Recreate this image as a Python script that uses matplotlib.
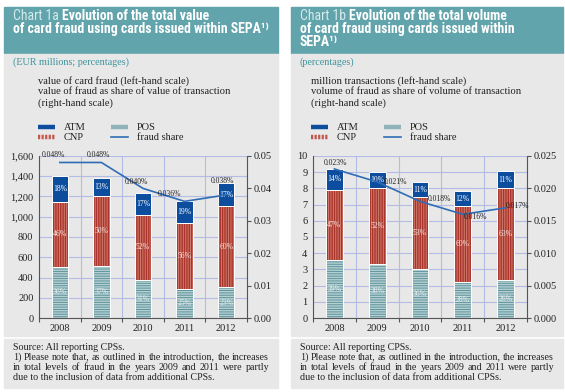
import matplotlib
matplotlib.use('Agg')
import matplotlib.pyplot as plt
from matplotlib.patches import Rectangle
from matplotlib.lines import Line2D
from matplotlib.ticker import FuncFormatter, FormatStrFormatter
from matplotlib import font_manager as fm

years = ['2008', '2009', '2010', '2011', '2012']

# Chart 1a - value of card fraud (EUR millions)
val_pos = [505, 515, 380, 290, 305]
val_cnp = [645, 685, 640, 650, 800]
val_atm = [250, 180, 210, 220, 225]
val_pos_pct = ['36%', '37%', '31%', '25%', '23%']
val_cnp_pct = ['46%', '50%', '52%', '56%', '60%']
val_atm_pct = ['18%', '13%', '17%', '19%', '17%']
val_share = [0.048, 0.048, 0.040, 0.036, 0.038]
val_share_lbl = ['0.048%', '0.048%', '0.040%', '0.036%', '0.038%']

# Chart 1b - volume of card fraud (million transactions)
vol_pos = [3.6, 3.35, 3.0, 2.2, 2.35]
vol_cnp = [4.3, 4.7, 4.45, 4.7, 5.65]
vol_atm = [1.3, 0.95, 0.95, 0.95, 1.05]
vol_pos_pct = ['39%', '38%', '36%', '28%', '26%']
vol_cnp_pct = ['47%', '52%', '53%', '60%', '63%']
vol_atm_pct = ['14%', '10%', '11%', '12%', '11%']
vol_share = [0.023, 0.021, 0.018, 0.016, 0.017]
vol_share_lbl = ['0.023%', '0.021%', '0.018%', '0.016%', '0.017%']

W, H = 565, 392
TEAL = '#62a4ab'
GREY = '#e8e8e8'
ATM_C = '#0c4d9e'
CNP_FACE, CNP_HATCH = '#d27c6d', '#a9342b'
POS_FACE, POS_HATCH = '#5f949b', '#b5d0d3'
LINE_C = '#2e6db5'
GRID_C = '#b3bce6'
SERIF = 'Liberation Serif'

names = {f.name for f in fm.fontManager.ttflist}
title_font = next((n for n in ['Liberation Sans Narrow', 'DejaVu Sans Condensed', 'Roboto Condensed']
                   if n in names), 'DejaVu Sans')

plt.rcParams['hatch.linewidth'] = 1.0

fig = plt.figure(figsize=(W / 100, H / 100), dpi=100)
fig.patch.set_facecolor('white')
renderer = fig.canvas.get_renderer()


def fx(x):
    return x / W


def fy(y):
    return 1 - y / H


def rect(x0, y0, x1, y1, color):
    fig.patches.append(Rectangle((fx(x0), fy(y1)), (x1 - x0) / W, (y1 - y0) / H,
                                 transform=fig.transFigure, color=color, zorder=-5))


def width_of(t):
    return t.get_window_extent(renderer).width


def justified(x0, x1, y, line, **kw):
    words = line.split()
    texts = [fig.text(0, fy(y), w, **kw) for w in words]
    widths = [width_of(t) for t in texts]
    gap = (x1 - x0 - sum(widths)) / (len(words) - 1)
    x = x0
    for t, w in zip(texts, widths):
        t.set_x(fx(x))
        x += w + gap


# fit title size to the reference line width
probe = fig.text(0, 0, 'of card fraud using cards issued within SEPA', fontsize=8,
                 fontweight='bold', family=[title_font, 'DejaVu Sans'])
title_size = 8 * 248 / width_of(probe)
probe.remove()


def title(x, y, first, rest):
    t = fig.text(fx(x), fy(y), first, fontsize=title_size, color='#d5eaec',
                 family=[title_font, 'DejaVu Sans'], va='baseline')
    if rest:
        fig.text(fx(x + width_of(t)), fy(y), rest, fontsize=title_size, color='white',
                 fontweight='bold', family=[title_font, 'DejaVu Sans'], va='baseline')


def panel(px0, px1, titles, subtitle, notes, ax_box, pos, cnp, atm, pos_pct, cnp_pct, atm_pct,
          share, share_lbl, offsets, ymax, ystep, smax, sstep, sfmt, leftfmt, leg_x):
    rect(px0, 7, px1, 53, TEAL)
    rect(px0, 54, px1, 336, GREY)
    rect(px0, 339, px1, 388, GREY)

    for i, (first, rest) in enumerate(titles):
        title(px0 + 9, 20.5 + 12.7 * i, first, rest)

    fig.text(fx(px0 + 9), fy(62), subtitle, fontsize=7.3, color='#3d949d', family=SERIF, va='center')
    for i, s in enumerate(notes):
        fig.text(fx(leg_x), fy(81 + 11 * i), s, fontsize=7.6, color='#222222', family=SERIF, va='center')

    # legend
    handles = [
        (leg_x, 127, 'ATM', dict(color=ATM_C, lw=3.2, solid_capstyle='butt')),
        (leg_x, 137, 'CNP', dict(color='#c4564a', lw=3.2, ls=(0, (0.5, 0.3)), dash_capstyle='butt')),
        (leg_x + 73, 127, 'POS', dict(color='#8fb3b8', lw=3.2, solid_capstyle='butt')),
        (leg_x + 73, 137, 'fraud share', dict(color=LINE_C, lw=1.2)),
    ]
    for hx, hy, lab, st in handles:
        fig.add_artist(Line2D([fx(hx), fx(hx + 17)], [fy(hy), fy(hy)], transform=fig.transFigure, **st))
        fig.text(fx(hx + 26), fy(hy), lab, fontsize=7.5, color='#222222', family=SERIF, va='center')

    # footer
    fkw = dict(fontsize=7.2, color='#222222', family=SERIF, va='center')
    fig.text(fx(px0 + 9), fy(347), 'Source: All reporting CPSs.', **fkw)
    justified(px0 + 9, px1 - 9, 357,
              '1) Please note that, as outlined in the introduction, the increases', **fkw)
    justified(px0 + 9, px1 - 9, 367,
              'in total levels of fraud in the years 2009 and 2011 were partly', **fkw)
    fig.text(fx(px0 + 9), fy(377), 'due to the inclusion of data from additional CPSs.', **fkw)

    x0, x1, y0, y1 = ax_box
    ax = fig.add_axes([fx(x0), fy(y1), (x1 - x0) / W, (y1 - y0) / H])
    ax.set_facecolor('none')
    x = range(len(years))
    bw = 0.39
    cnp_bottom = pos
    atm_bottom = [p + c for p, c in zip(pos, cnp)]

    ax.bar(x, pos, bw, color=POS_FACE, edgecolor=POS_HATCH, hatch='-------', lw=0, zorder=2)
    ax.bar(x, cnp, bw, bottom=cnp_bottom, color=CNP_FACE, edgecolor=CNP_HATCH, hatch='|||||||',
           lw=0, zorder=2)
    ax.bar(x, atm, bw, bottom=atm_bottom, color=ATM_C, lw=0, zorder=2)
    for vals, bot in [(pos, [0] * 5), (cnp, cnp_bottom), (atm, atm_bottom)]:
        ax.bar(x, vals, bw, bottom=bot, fill=False, edgecolor='white', lw=0.7, zorder=3)

    for i in x:
        ax.text(i, pos[i] / 2, pos_pct[i], ha='center', va='center', fontsize=5.5,
                color='#e8f0f1', family=SERIF, zorder=4)
        ax.text(i, cnp_bottom[i] + cnp[i] / 2, cnp_pct[i], ha='center', va='center', fontsize=5.5,
                color='#f6e2dd', family=SERIF, zorder=4)
        ax.text(i, atm_bottom[i] + atm[i] / 2, atm_pct[i], ha='center', va='center', fontsize=5.5,
                color='white', family=SERIF, zorder=4)

    ax.set_xlim(-0.5, 4.5)
    ax.set_ylim(0, ymax)
    ax.set_yticks([ystep * k for k in range(int(round(ymax / ystep)) + 1)])
    ax.yaxis.set_major_formatter(leftfmt)
    ax.set_xticks([k - 0.5 for k in range(6)])
    ax.set_xticklabels([])
    ax.set_xticks(list(x), minor=True)
    ax.set_xticklabels(years, minor=True)
    ax.tick_params(axis='x', which='major', direction='out', length=3, color='#555555')
    ax.tick_params(axis='x', which='minor', length=0, pad=4.5, labelsize=7.5)
    ax.tick_params(axis='y', length=0, pad=4, labelsize=7.5)
    for lab in ax.get_xticklabels(minor=True) + ax.get_yticklabels():
        lab.set_family(SERIF)
        lab.set_color('#222222')
    ax.grid(True, which='major', color=GRID_C, lw=0.8)
    ax.set_axisbelow(True)
    for s in ['top', 'right']:
        ax.spines[s].set_visible(False)
    for s in ['left', 'bottom']:
        ax.spines[s].set_color('#555555')
        ax.spines[s].set_linewidth(0.8)

    ax2 = ax.twinx()
    ax2.set_ylim(0, smax)
    ax2.set_yticks([sstep * k for k in range(int(round(smax / sstep)) + 1)])
    ax2.yaxis.set_major_formatter(FormatStrFormatter(sfmt))
    ax2.tick_params(axis='y', direction='out', length=3, pad=1.5, labelsize=7.5, color='#555555')
    for lab in ax2.get_yticklabels():
        lab.set_family(SERIF)
        lab.set_color('#222222')
    for s in ['top', 'left', 'bottom']:
        ax2.spines[s].set_visible(False)
    ax2.spines['right'].set_color('#555555')
    ax2.spines['right'].set_linewidth(0.8)
    ax2.plot(x, share, color=LINE_C, lw=1.2, zorder=5)
    for i in x:
        dx, dy, ha = offsets[i]
        ax2.annotate(share_lbl[i], (i, share[i]), xytext=(dx, dy), textcoords='offset pixels',
                     ha=ha, va='center', fontsize=5.5, color='#222222', family=SERIF, zorder=6)


panel(4, 278,
      [('Chart 1a ', 'Evolution of the total value'),
       ('', 'of card fraud using cards issued within SEPA¹⁾')],
      '(EUR millions; percentages)',
      ['value of card fraud (left-hand scale)',
       'value of fraud as share of value of transaction',
       '(right-hand scale)'],
      (39, 247, 156, 318),
      val_pos, val_cnp, val_atm, val_pos_pct, val_cnp_pct, val_atm_pct,
      val_share, val_share_lbl,
      [(-6, 7, 'center'), (-3, 7, 'center'), (-7, 6, 'center'), (-15, 7, 'center'), (-4, 14, 'center')],
      1600, 200, 0.05, 0.01, '%.2f', FuncFormatter(lambda v, p: f'{v:,.0f}'), 38)

panel(291, 563,
      [('Chart 1b ', 'Evolution of the total volume'),
       ('', 'of card fraud using cards issued within'),
       ('', 'SEPA¹⁾')],
      '(percentages)',
      ['million transactions (left-hand scale)',
       'volume of fraud as share of volume of transaction',
       '(right-hand scale)'],
      (313, 527, 156, 318),
      vol_pos, vol_cnp, vol_atm, vol_pos_pct, vol_cnp_pct, vol_atm_pct,
      vol_share, vol_share_lbl,
      [(1, 6, 'center'), (7, 0, 'left'), (8, 2, 'left'), (1, -3, 'left'), (0, 2, 'left')],
      10, 1, 0.025, 0.005, '%.3f', FuncFormatter(lambda v, p: f'{v:.0f}'), 311)

fig.savefig('out.png', dpi=100)
